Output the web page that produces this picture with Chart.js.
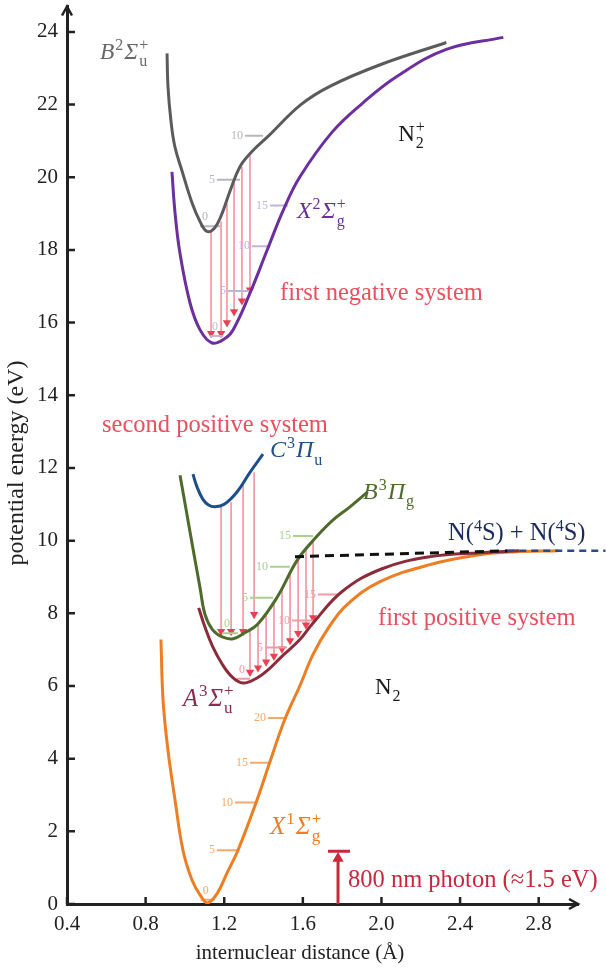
<!DOCTYPE html>
<html>
<head>
<meta charset="utf-8">
<script src="https://cdn.jsdelivr.net/npm/chart.js@4.4.1/dist/chart.umd.min.js"></script>
<style>
  html, body { margin: 0; padding: 0; background: #fff; }
</style>
</head>
<body>
<canvas id="pec" width="606" height="970"></canvas>
<script>
// axis ticks
const xTicks = [0.4, 0.8, 1.2, 1.6, 2.0, 2.4, 2.8];
const yTicks = [0, 2, 4, 6, 8, 10, 12, 14, 16, 18, 20, 22, 24];

// potential curves: internuclear distance (Å) and energy (eV)
const bIonR = [0.909, 0.914, 0.929, 0.949, 0.985, 1.036, 1.077, 1.112, 1.15, 1.185, 1.23, 1.28, 1.34, 1.42, 1.59, 1.74, 2.0, 2.33];
const bIonE = [23.41, 22.48, 21.55, 20.84, 20.18, 19.3, 18.78, 18.51, 18.6, 18.95, 19.63, 20.29, 20.7, 21.11, 22.0, 22.51, 23.11, 23.71];

const xIonR = [0.934, 0.95, 0.975, 1.026, 1.077, 1.138, 1.2, 1.245, 1.331, 1.418, 1.5, 1.586, 1.75, 1.906, 2.08, 2.33, 2.62];
const xIonE = [20.15, 19.0, 17.9, 16.54, 15.8, 15.44, 15.55, 15.8, 16.81, 17.99, 19.09, 20.02, 21.25, 22.05, 22.78, 23.52, 23.85];

const cPiR = [1.041, 1.06, 1.09, 1.12, 1.153, 1.2, 1.265, 1.331, 1.397];
const cPiE = [11.83, 11.5, 11.15, 10.98, 10.93, 11.0, 11.34, 11.88, 12.38];

const bPiR = [0.975, 1.011, 1.041, 1.077, 1.102, 1.14, 1.19, 1.245, 1.30, 1.37, 1.47, 1.57, 1.66, 1.75, 1.84, 1.93];
const bPiE = [11.8, 10.7, 9.78, 8.7, 7.97, 7.55, 7.35, 7.3, 7.45, 7.7, 8.45, 9.45, 10.05, 10.55, 10.93, 11.34];

const aSigR = [1.07, 1.10, 1.14, 1.19, 1.24, 1.295, 1.36, 1.43, 1.5, 1.58, 1.65, 1.8, 2.0, 2.25, 2.5, 2.7];
const aSigE = [8.15, 7.65, 7.1, 6.6, 6.25, 6.08, 6.2, 6.48, 6.85, 7.25, 7.72, 8.6, 9.22, 9.56, 9.67, 9.72];

const xGrR = [0.878, 0.889, 0.914, 0.95, 0.99, 1.036, 1.077, 1.115, 1.163, 1.214, 1.27, 1.362, 1.433, 1.509, 1.586, 1.652, 1.73, 1.825, 1.993, 2.247, 2.5, 2.67, 2.9];
const xGrE = [7.28, 5.59, 4.22, 2.85, 1.48, 0.66, 0.25, 0.03, 0.28, 0.85, 1.48, 2.79, 3.92, 5.09, 6.02, 6.87, 7.6, 8.24, 8.87, 9.34, 9.61, 9.69, 9.72];

// dissociation limit N(4S)+N(4S)
const limitR = [1.56, 2.64, 3.14];
const limitE = [9.56, 9.72, 9.72];

// vibrational levels: quantum number, energy, left / right end
const levGreyV = [0, 5, 10];
const levGreyE = [18.65, 19.93, 21.14];
const levGreyX0 = [1.077, 1.163, 1.306];
const levGreyX1 = [1.179, 1.28, 1.397];

const levPurpV = [0, 5, 10, 15];
const levPurpE = [15.63, 16.87, 18.1, 19.22];
const levPurpX0 = [1.128, 1.219, 1.341, 1.433];
const levPurpX1 = [1.194, 1.331, 1.423, 1.525];

const levGreenV = [0, 5, 10, 15];
const levGreenE = [7.45, 8.43, 9.28, 10.13];
const levGreenX0 = [1.189, 1.331, 1.433, 1.55];
const levGreenX1 = [1.27, 1.448, 1.535, 1.652];

const levPinkV = [0, 5, 10, 15];
const levPinkE = [6.2, 7.06, 7.8, 8.52];
const levPinkX0 = [1.265, 1.408, 1.545, 1.677];
const levPinkX1 = [1.331, 1.52, 1.652, 1.774];

const levOrV = [0, 5, 10, 15, 20];
const levOrE = [0.12, 1.48, 2.79, 3.89, 5.12];
const levOrX0 = [1.08, 1.163, 1.255, 1.331, 1.423];
const levOrX1 = [1.15, 1.27, 1.362, 1.433, 1.52];

// transitions (vertical arrows): position, upper and lower energy
const negR = [1.133, 1.184, 1.214, 1.25, 1.29, 1.331];
const negTop = [18.51, 18.78, 19.28, 19.91, 20.29, 20.59];
const negBot = [15.7, 15.7, 16.0, 16.3, 16.6, 16.9];

const secR = [1.184, 1.235, 1.296, 1.352];
const secTop = [10.93, 11.06, 11.53, 11.88];
const secBot = [7.5, 7.5, 7.5, 7.97];

const firR = [1.331, 1.372, 1.413, 1.453, 1.494, 1.535, 1.576, 1.616, 1.652];
const firTop = [7.55, 7.75, 8.0, 8.3, 8.7, 9.1, 9.5, 9.75, 9.98];
const firBot = [6.38, 6.5, 6.66, 6.82, 7.02, 7.25, 7.45, 7.68, 7.88];

// 800 nm photon
const photonR = 1.779;
const photonE = 1.45;

const SERIF = '"Liberation Serif", "DejaVu Serif", serif';
const pts = (xs, ys) => xs.map((x, i) => ({ x, y: ys[i] }));

function curve(xs, ys, color) {
  return { data: pts(xs, ys), borderColor: color, borderWidth: 3, pointRadius: 0,
    tension: 0.4, fill: false };
}
function levelSets(x0, x1, es, color) {
  return es.map((e, i) => ({ data: [{ x: x0[i], y: e }, { x: x1[i], y: e }],
    borderColor: color, borderWidth: 2, pointRadius: 0 }));
}
function arrowSets(xs, tops, bots) {
  return xs.map((r, i) => ({
    data: [{ x: r, y: tops[i] }, { x: r, y: bots[i] }],
    borderColor: '#f39aa3', borderWidth: 1.7,
    pointStyle: 'triangle', pointRotation: 180, pointRadius: [0, 4.8],
    pointBackgroundColor: '#ea4055', pointBorderColor: '#ea4055', pointBorderWidth: 0, pointHoverRadius: 0
  }));
}

const levelGroups = [
  { v: levGreyV, e: levGreyE, x0: levGreyX0, x1: levGreyX1, color: '#b6b6be' },
  { v: levPurpV, e: levPurpE, x0: levPurpX0, x1: levPurpX1, color: '#bfb5da' },
  { v: levGreenV, e: levGreenE, x0: levGreenX0, x1: levGreenX1, color: '#a9d18e' },
  { v: levPinkV, e: levPinkE, x0: levPinkX0, x1: levPinkX1, color: '#ee9ca4' },
  { v: levOrV, e: levOrE, x0: levOrX0, x1: levOrX1, color: '#f4a96b' },
];

const terms = [
  { r: 0.568, e: 23.25, size: 23.5, color: '#686868', main: 'B', spin: '2', greek: 'Σ', sub: 'u', sup: '+' },
  { r: 1.570, e: 18.87, size: 24, color: '#6b2fa0', main: 'X', spin: '2', greek: 'Σ', sub: 'g', sup: '+' },
  { r: 1.433, e: 12.29, size: 24, color: '#1f4f8a', main: 'C', spin: '3', greek: 'Π', sub: 'u', sup: '' },
  { r: 1.906, e: 11.14, size: 24, color: '#4f6b2b', main: 'B', spin: '3', greek: 'Π', sub: 'g', sup: '' },
  { r: 0.990, e: 5.45, size: 24.5, color: '#8c2c4a', main: 'A', spin: '3', greek: 'Σ', sub: 'u', sup: '+' },
  { r: 1.433, e: 1.94, size: 25, color: '#ef7d22', main: 'X', spin: '1', greek: 'Σ', sub: 'g', sup: '+' },
];

const notes = [
  { r: 1.484, e: 16.62, text: 'first negative system', color: '#e8505e' },
  { r: 0.578, e: 12.98, text: 'second positive system', color: '#e8505e' },
  { r: 1.983, e: 7.69, text: 'first positive system', color: '#e8505e' },
  { r: 1.83, e: 0.465, text: '800 nm photon (≈1.5 eV)', color: '#c8283c' },
];

const datasets = [
  { data: pts(limitR.slice(0, 2), limitE.slice(0, 2)), borderColor: '#111', borderWidth: 3,
    borderDash: [9, 6], pointRadius: 0 },
  { data: pts(limitR.slice(1), limitE.slice(1)), borderColor: '#2a4a8a', borderWidth: 2.5,
    borderDash: [7, 5], pointRadius: 0, clip: false },
  { data: [{ x: photonR, y: 0 }, { x: photonR, y: photonE - 0.2 }], borderColor: '#c8283c', borderWidth: 3,
    pointStyle: 'triangle', pointRadius: [0, 6.5], pointBackgroundColor: '#c8283c', pointBorderWidth: 0 },
  { data: [{ x: photonR - 0.051, y: photonE }, { x: photonR + 0.061, y: photonE }], borderColor: '#c8283c',
    borderWidth: 3, pointRadius: 0 },
  curve(bIonR, bIonE, '#5b5b5b'),
  curve(xIonR, xIonE, '#6b2fa0'),
  curve(cPiR, cPiE, '#1f4f8a'),
  curve(bPiR, bPiE, '#4f6b2b'),
  curve(aSigR, aSigE, '#8c2c3a'),
  curve(xGrR, xGrE, '#ef7d22'),
  ...levelGroups.flatMap(g => levelSets(g.x0, g.x1, g.e, g.color)),
  ...arrowSets(negR, negTop, negBot),
  ...arrowSets(secR, secTop, secBot),
  ...arrowSets(firR, firTop, firBot),
];

function drawTerm(ctx, x, y, t) {
  const s = t.size;
  const it = `italic ${s}px ${SERIF}`;
  const sm = `${Math.round(s * 0.68)}px ${SERIF}`;
  ctx.fillStyle = t.color;
  ctx.textAlign = 'left';
  ctx.textBaseline = 'alphabetic';
  ctx.font = it; ctx.fillText(t.main, x, y); x += ctx.measureText(t.main).width + 1;
  ctx.font = sm; ctx.fillText(t.spin, x, y - s * 0.4); x += ctx.measureText(t.spin).width + 1;
  ctx.font = it; ctx.fillText(t.greek, x, y); x += ctx.measureText(t.greek).width + 1;
  ctx.font = sm; ctx.fillText(t.sub, x, y + s * 0.3);
  if (t.sup) ctx.fillText(t.sup, x, y - s * 0.4);
}

const overlay = {
  id: 'overlay',
  afterDraw(chart) {
    const { ctx, chartArea: a, scales: { x, y } } = chart;
    const X = v => x.getPixelForValue(v), Y = v => y.getPixelForValue(v);
    ctx.save();

    // inward tick marks and axis arrowheads
    ctx.strokeStyle = '#222';
    ctx.lineWidth = 2.5;
    ctx.beginPath();
    xTicks.forEach(v => { ctx.moveTo(X(v), a.bottom); ctx.lineTo(X(v), a.bottom - 7); });
    yTicks.forEach(v => { ctx.moveTo(a.left, Y(v)); ctx.lineTo(a.left + 8, Y(v)); });
    ctx.moveTo(a.left - 5, a.top + 9); ctx.lineTo(a.left, a.top); ctx.lineTo(a.left + 5, a.top + 9);
    ctx.moveTo(a.right - 9, a.bottom - 5); ctx.lineTo(a.right, a.bottom); ctx.lineTo(a.right - 9, a.bottom + 5);
    ctx.stroke();

    // axis titles
    ctx.fillStyle = '#222';
    ctx.font = `21px ${SERIF}`;
    ctx.textAlign = 'center';
    ctx.textBaseline = 'middle';
    ctx.fillText('internuclear distance (Å)', 300, 953);
    ctx.save();
    ctx.translate(17, 463);
    ctx.rotate(-Math.PI / 2);
    ctx.font = `24px ${SERIF}`;
    ctx.fillText('potential energy (eV)', 0, 0);
    ctx.restore();

    // vibrational level numbers
    ctx.font = `12px ${SERIF}`;
    levelGroups.forEach(g => {
      ctx.fillStyle = g.color;
      g.v.forEach((v, i) => {
        if (v === 0) {
          ctx.textAlign = 'center';
          ctx.fillText('0', X(g.x0[i]) + 5, Y(g.e[i]) - 9);
        } else {
          ctx.textAlign = 'right';
          ctx.fillText(String(v), X(g.x0[i]) - 2, Y(g.e[i]));
        }
      });
    });

    // state labels
    terms.forEach(t => drawTerm(ctx, X(t.r), Y(t.e), t));

    // plain notes
    ctx.textAlign = 'left';
    ctx.textBaseline = 'alphabetic';
    ctx.font = `24.5px ${SERIF}`;
    notes.forEach(n => { ctx.fillStyle = n.color; ctx.fillText(n.text, X(n.r), Y(n.e)); });

    // molecule labels
    ctx.fillStyle = '#1a1a1a';
    ctx.font = `23px ${SERIF}`;
    let px = X(2.085), py = Y(21.0);
    ctx.fillText('N', px, py);
    let w = ctx.measureText('N').width + 1;
    ctx.font = `16px ${SERIF}`;
    ctx.fillText('2', px + w, py + 7);
    ctx.fillText('+', px + w, py - 9);

    ctx.font = `23px ${SERIF}`;
    px = X(1.967); py = Y(5.78);
    ctx.fillText('N', px, py);
    w = ctx.measureText('N').width + 1;
    ctx.font = `16px ${SERIF}`;
    ctx.fillText('2', px + w, py + 7);

    // dissociation limit label
    ctx.fillStyle = '#1c2b5e';
    px = X(2.339); py = Y(10.02);
    const parts = [['N(', 0], ['4', 1], ['S) + N(', 0], ['4', 1], ['S)', 0]];
    parts.forEach(([txt, sup]) => {
      ctx.font = sup ? `16px ${SERIF}` : `24.5px ${SERIF}`;
      ctx.fillText(txt, px, sup ? py - 9 : py);
      px += ctx.measureText(txt).width;
    });

    ctx.restore();
  }
};

new Chart(document.getElementById('pec'), {
  type: 'line',
  data: { datasets },
  options: {
    responsive: false,
    animation: false,
    events: [],
    layout: { padding: { top: 2, right: 28, left: 0, bottom: 0 } },
    plugins: { legend: { display: false }, tooltip: { enabled: false } },
    scales: {
      x: {
        type: 'linear', min: 0.4, max: 3.0,
        afterBuildTicks: s => { s.ticks = xTicks.map(v => ({ value: v })); },
        afterFit: s => { s.height = 66; s.paddingLeft = 0; s.paddingRight = 0; },
        grid: { drawOnChartArea: false, drawTicks: false },
        border: { display: true, color: '#222', width: 3 },
        ticks: { padding: 8, color: '#222', font: { family: SERIF, size: 21 },
          maxRotation: 0, autoSkip: false, callback: v => v.toFixed(1) }
      },
      y: {
        type: 'linear', min: 0, max: 24.7,
        afterBuildTicks: s => { s.ticks = yTicks.map(v => ({ value: v })); },
        afterFit: s => { s.width = 67; s.paddingTop = 0; s.paddingBottom = 0; },
        grid: { drawOnChartArea: false, drawTicks: false },
        border: { display: true, color: '#222', width: 3 },
        ticks: { padding: 9, color: '#222', font: { family: SERIF, size: 21 },
          autoSkip: false, callback: v => String(v) }
      }
    }
  },
  plugins: [overlay]
});
</script>
</body>
</html>
